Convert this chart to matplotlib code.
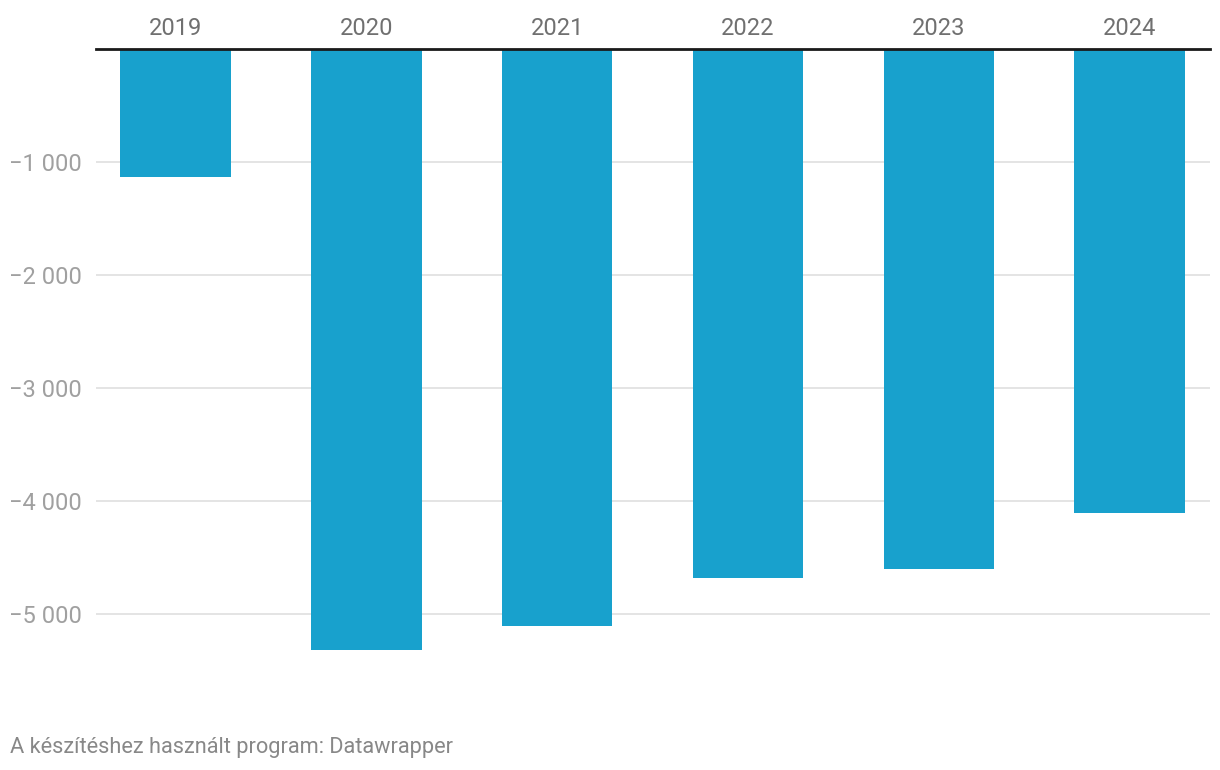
import numpy as np
import matplotlib
matplotlib.use('Agg')
import matplotlib.pyplot as plt

plt.rcParams['font.family'] = ['Roboto', 'DejaVu Sans']

# data
years = ['2019', '2020', '2021', '2022', '2023', '2024']
values = [-1130, -5320, -5105, -4680, -4600, -4105]
y_ticks = [-5000, -4000, -3000, -2000, -1000]
y_tick_labels = ['\u22125 000', '\u22124 000', '\u22123 000', '\u22122 000', '\u22121 000']
footer = 'A készítéshez használt program: Datawrapper'

fig = plt.figure(figsize=(12.2, 7.7), dpi=100)
ax = fig.add_axes([96 / 1220, 88 / 770, (1210 - 96) / 1220, (682 - 49) / 770])

x_pos = np.arange(len(years))
ax.bar(x_pos, values, width=0.58, color='#18a1cd', zorder=2)

ax.set_xlim(-0.415, 5.42)
ax.set_ylim(-5600, 0)

# gridlines + zero line
ax.set_yticks(y_ticks)
ax.set_yticklabels(y_tick_labels)
ax.yaxis.grid(True, color='#e2e2e2', linewidth=1.3, zorder=0)
ax.axhline(0, color='#1a1a1a', linewidth=2, zorder=3, clip_on=False)

ax.xaxis.tick_top()
ax.set_xticks(x_pos)
ax.set_xticklabels(years)
ax.tick_params(axis='x', length=0, pad=6.5, labelsize=17, labelcolor='#707070')
ax.tick_params(axis='y', length=0, pad=10, labelsize=17, labelcolor='#a0a0a0')

for s in ax.spines.values():
    s.set_visible(False)

fig.text(10 / 1220, 1 - 747 / 770, footer, fontsize=15.7, color='#888888', va='center', ha='left')

fig.savefig('out.png', dpi=100)
